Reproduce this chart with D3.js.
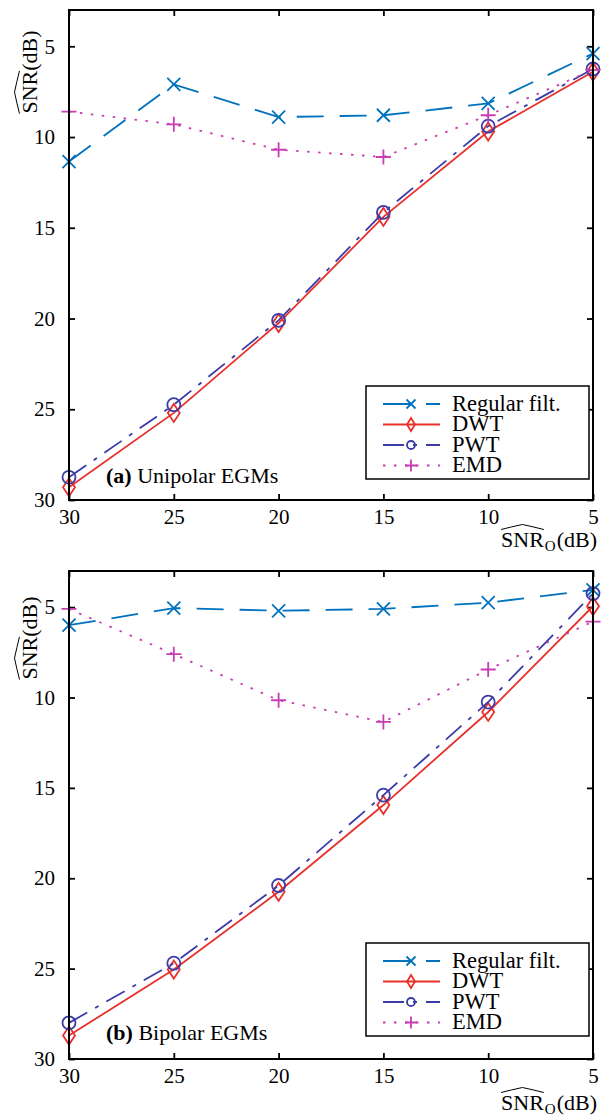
<!DOCTYPE html>
<html lang="en">
<head>
<meta charset="UTF-8">
<title>SNR comparison</title>
<script src="https://d3js.org/d3.v7.min.js"></script>
<style>
  body { margin: 0; background: #fff; }
  svg, svg text { font-family: "Liberation Serif", "Times New Roman", serif; }
  svg { display: block; }
  .tick text { font-size: 21px; fill: #000; }
  .tick line { stroke: #000; stroke-width: 1.8; }
</style>
</head>
<body>
<svg width="608" height="1117"></svg>
<script>
// x values (input SNR, dB) and axis ticks
const snrIn = [30, 25, 20, 15, 10, 5];
const yTicks = [5, 10, 15, 20, 25, 30];
const seriesNames = ["Regular filt.", "DWT", "PWT", "EMD"];

// (a) unipolar EGMs
const regA = [11.35, 7.1, 8.9, 8.8, 8.15, 5.4];
const dwtA = [29.3, 25.2, 20.25, 14.4, 9.7, 6.4];
const pwtA = [28.75, 24.75, 20.1, 14.15, 9.4, 6.25];
const emdA = [8.6, 9.3, 10.7, 11.1, 8.8, 6.3];

// (b) bipolar EGMs
const regB = [6.0, 5.05, 5.2, 5.1, 4.75, 4.05];
const dwtB = [28.7, 25.05, 20.75, 15.95, 10.8, 4.95];
const pwtB = [28.0, 24.7, 20.4, 15.4, 10.25, 4.25];
const emdB = [5.1, 7.6, 10.15, 11.35, 8.45, 5.8];

const styles = [
  { color: "#0072bd", dash: "27,16", marker: "cross" },
  { color: "#e8302c", dash: null, marker: "diamond" },
  { color: "#3c3ca8", dash: "21,9,4,9", marker: "circle" },
  { color: "#c83cb4", dash: "2.5,8.5", marker: "plus" }
];

const panels = [
  { top: 10, bottom: 500, tag: "(a)", name: "Unipolar EGMs", series: [regA, dwtA, pwtA, emdA],
    legendTop: 386, tagY: 483, xLabelY: 547, yLabelMid: 72 },
  { top: 571, bottom: 1059, tag: "(b)", name: "Bipolar EGMs", series: [regB, dwtB, pwtB, emdB],
    legendTop: 943, tagY: 1040, xLabelY: 1110, yLabelMid: 638 }
];

const svg = d3.select("svg");
const left = 69, right = 593;
const x = d3.scaleLinear().domain([30, 5]).range([left, right]);

function markerPath(type, big) {
  const s = big ? 6.5 : 4.5;
  if (type === "cross") return `M${-s},${-s}L${s},${s}M${-s},${s}L${s},${-s}`;
  if (type === "plus") { const p = big ? 7.5 : 6; return `M${-p},0L${p},0M0,${-p}L0,${p}`; }
  if (type === "diamond") { const w = big ? 6 : 4, h = big ? 9 : 6.5; return `M0,${-h}L${w},0L0,${h}L${-w},0Z`; }
  return null;
}

function drawMarker(g, type, cx, cy, color, big) {
  if (type === "circle") {
    g.append("circle").attr("cx", cx).attr("cy", cy).attr("r", big ? 6.5 : 4)
      .attr("fill", "none").attr("stroke", color).attr("stroke-width", 1.8);
  } else {
    g.append("path").attr("transform", `translate(${cx},${cy})`).attr("d", markerPath(type, big))
      .attr("fill", "none").attr("stroke", color).attr("stroke-width", 1.8);
  }
}

// "SNR" with a wide hat, optional subscript, then "(dB)"; laid out along local x
function hatLabel(g, sub) {
  const t1 = g.append("text").attr("font-size", 22).text("SNR");
  let w = t1.node().getComputedTextLength();
  const hatW = w;
  if (sub) {
    const t2 = g.append("text").attr("x", w + 1).attr("y", 4).attr("font-size", 15).text(sub);
    w += t2.node().getComputedTextLength() + 2;
  }
  const t3 = g.append("text").attr("x", w).attr("font-size", 22).text("(dB)");
  w += t3.node().getComputedTextLength();
  const yb = -17.5, h = 5, xm = hatW / 2;
  g.append("path")
    .attr("d", `M0,${yb}Q${xm * 0.5},${yb - h * 0.55} ${xm},${yb - h}Q${xm * 1.5},${yb - h * 0.55} ${hatW},${yb}`)
    .attr("fill", "none").attr("stroke", "#000").attr("stroke-width", 1);
  return w;
}

panels.forEach(p => {
  const y = d3.scaleLinear().domain([3, 30]).range([p.top, p.bottom]);
  const g = svg.append("g");

  // axes with inward ticks on all four sides
  g.append("g").attr("transform", `translate(0,${p.bottom})`)
    .call(d3.axisBottom(x).tickValues(snrIn).tickSizeInner(-6).tickSizeOuter(0).tickPadding(9));
  g.append("g").attr("transform", `translate(0,${p.top})`)
    .call(d3.axisTop(x).tickValues(snrIn).tickSizeInner(-6).tickSizeOuter(0).tickFormat(""));
  g.append("g").attr("transform", `translate(${left},0)`)
    .call(d3.axisLeft(y).tickValues(yTicks).tickSizeInner(-6).tickSizeOuter(0).tickPadding(14));
  g.append("g").attr("transform", `translate(${right},0)`)
    .call(d3.axisRight(y).tickValues(yTicks).tickSizeInner(-6).tickSizeOuter(0).tickFormat(""));
  g.selectAll(".domain").remove();
  g.selectAll("g").attr("font-family", null).attr("font-size", null);

  // series
  const line = d3.line().x((d, i) => x(snrIn[i])).y(d => y(d));
  p.series.forEach((vals, k) => {
    const st = styles[k];
    g.append("path").datum(vals).attr("d", line)
      .attr("fill", "none").attr("stroke", st.color).attr("stroke-width", 1.8)
      .attr("stroke-dasharray", st.dash);
    vals.forEach((v, i) => drawMarker(g, st.marker, x(snrIn[i]), y(v), st.color, true));
  });

  // frame
  g.append("rect").attr("x", left).attr("y", p.top)
    .attr("width", right - left).attr("height", p.bottom - p.top)
    .attr("fill", "none").attr("stroke", "#000").attr("stroke-width", 2);

  // legend
  const lg = g.append("g");
  lg.append("rect").attr("x", 366).attr("y", p.legendTop).attr("width", 223).attr("height", 93)
    .attr("fill", "#fff").attr("stroke", "#000").attr("stroke-width", 1.5);
  seriesNames.forEach((name, k) => {
    const st = styles[k];
    const ry = p.legendTop + 18 + k * 20.5;
    lg.append("line").attr("x1", 383).attr("x2", 440).attr("y1", ry).attr("y2", ry)
      .attr("stroke", st.color).attr("stroke-width", 1.8).attr("stroke-dasharray", st.dash);
    drawMarker(lg, st.marker, 411, ry, st.color, false);
    lg.append("text").attr("x", 452).attr("y", ry + 6.5).attr("font-size", 22.5).text(name);
  });

  // panel tag
  const tg = g.append("text").attr("x", 106).attr("y", p.tagY).attr("font-size", 22);
  tg.append("tspan").attr("font-weight", "bold").text(p.tag);
  tg.append("tspan").text(" " + p.name);

  // x label, right aligned
  const xl = g.append("g");
  const wx = hatLabel(xl, "O");
  xl.attr("transform", `translate(${597 - wx},${p.xLabelY})`);

  // y label, rotated
  const yl = g.append("g");
  const wy = hatLabel(yl, null);
  yl.attr("transform", `translate(37,${p.yLabelMid + wy / 2}) rotate(-90)`);
});
</script>
</body>
</html>
